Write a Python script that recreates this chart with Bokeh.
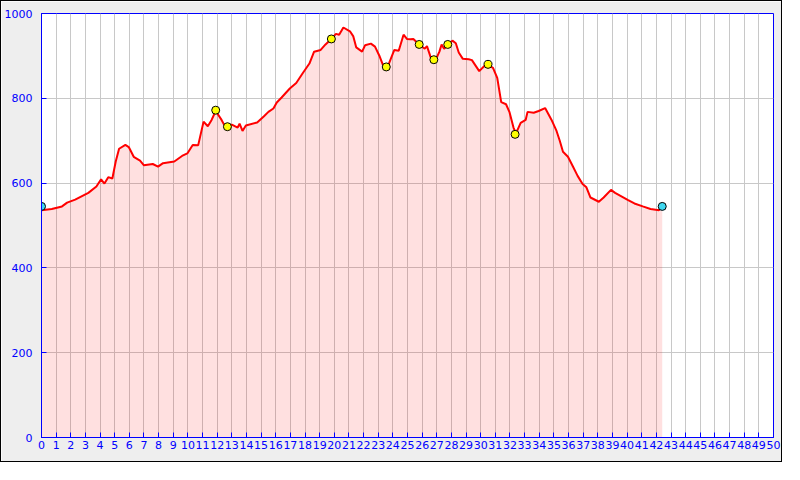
from bokeh.plotting import figure
from bokeh.models import Range1d, FixedTicker
from bokeh.embed import file_html
from bokeh.resources import INLINE

# Elevation profile (km, metres)
km = [0.0, 0.7, 1.4, 1.75, 2.3, 3.2, 3.75, 4.07, 4.3, 4.56, 4.84, 5.07, 5.3, 5.73, 5.96,
      6.3, 6.73, 7.0, 7.6, 7.96, 8.3, 9.07, 9.6, 9.96, 10.33, 10.7, 11.07, 11.36, 11.62,
      11.9, 12.3, 12.56, 13.0, 13.4, 13.53, 13.73, 13.96, 14.73, 15.18, 15.5, 15.84,
      16.07, 16.4, 16.96, 17.4, 17.84, 18.3, 18.62, 19.07, 19.4, 19.8, 20.11, 20.33,
      20.62, 21.07, 21.3, 21.5, 21.9, 22.1, 22.5, 22.78, 23.07, 23.4, 23.73, 24.1, 24.4,
      24.73, 24.96, 25.2, 25.4, 25.8, 26.18, 26.33, 26.62, 26.84, 27.18, 27.33, 27.5,
      27.75, 28.07, 28.3, 28.5, 28.78, 29.18, 29.4, 29.9, 30.3, 30.5, 30.84, 31.13,
      31.4, 31.73, 31.96, 32.24, 32.4, 32.51, 32.73, 33.07, 33.2, 33.62, 33.96, 34.4,
      34.84, 35.18, 35.4, 35.62, 35.96, 36.3, 36.62, 36.96, 37.22, 37.5, 38.07, 38.4,
      38.9, 39.18, 40.07, 40.5, 41.07, 41.6, 42.18, 42.3]
elevation = [536, 539, 545, 554, 561, 577, 592, 609, 599, 614, 611, 651, 681, 690, 685,
             662, 653, 642, 645, 639, 647, 651, 664, 670, 690, 689, 745, 734, 749,
             770, 749, 732, 738, 731, 740, 723, 736, 743, 757, 768, 776,
             790, 802, 823, 836, 859, 882, 910, 914, 927, 940, 952, 950,
             967, 958, 946, 920, 910, 925, 929, 922, 901, 872, 882, 914, 912,
             950, 940, 939, 940, 927, 917, 923, 893, 884, 910, 927, 917,
             925, 936, 930, 908, 893, 892, 890, 864, 878, 879, 872, 848,
             791, 786, 768, 731, 718, 725, 742, 749, 768, 766, 770, 777,
             749, 723, 700, 674, 662, 639, 617, 598, 590, 566, 556, 566,
             584, 577, 560, 552, 545, 539, 536, 541]

# Waypoints
way_km = [11.9, 12.7, 19.8, 23.55, 25.8, 26.8, 27.75, 30.5, 32.35]
way_elev = [772, 733, 940, 874, 927, 891, 927, 880, 715]
end_km = [0.0, 42.4]
end_elev = [545, 545]

x_ticks = list(range(0, 51))
y_ticks = [0, 200, 400, 600, 800, 1000]

p = figure(width=782, height=462, output_backend="svg", toolbar_location=None,
           x_range=Range1d(0, 50), y_range=Range1d(0, 1000),
           min_border_left=38, min_border_right=10, min_border_top=12, min_border_bottom=26)
p.styles = {"border": "1px solid black"}
p.background_fill_color = "white"
p.border_fill_color = "#eeeeee"
p.outline_line_color = "blue"
p.outline_line_width = 1

for ax, ticks in ((p.xaxis, x_ticks), (p.yaxis, y_ticks)):
    ax.ticker = FixedTicker(ticks=ticks)
    ax.axis_line_color = "blue"
    ax.major_tick_line_color = "blue"
    ax.major_tick_in = 5
    ax.major_tick_out = 0
    ax.minor_tick_line_color = None
    ax.major_label_text_color = "blue"
    ax.major_label_text_font = "DejaVu Sans"
    ax.major_label_text_font_size = "11px"
p.xaxis.major_label_standoff = 3
p.yaxis.major_label_standoff = 9

p.xgrid.ticker = FixedTicker(ticks=x_ticks)
p.ygrid.ticker = FixedTicker(ticks=y_ticks)
p.grid.grid_line_color = "#c8c8c8"
p.grid.grid_line_width = 1

fill_km = km + [42.4]
fill_elev = elevation + [543]
p.varea(x=fill_km, y1=[0] * len(fill_km), y2=fill_elev, fill_color="red", fill_alpha=0.12)
p.line(km, elevation, line_color="red", line_width=2)
p.scatter(way_km, way_elev, size=8, fill_color="yellow", line_color="black", line_width=1)
p.scatter(end_km, end_elev, size=8, fill_color="#40d8f0", line_color="black", line_width=1)

open("out.html", "w").write(file_html(p, INLINE))
